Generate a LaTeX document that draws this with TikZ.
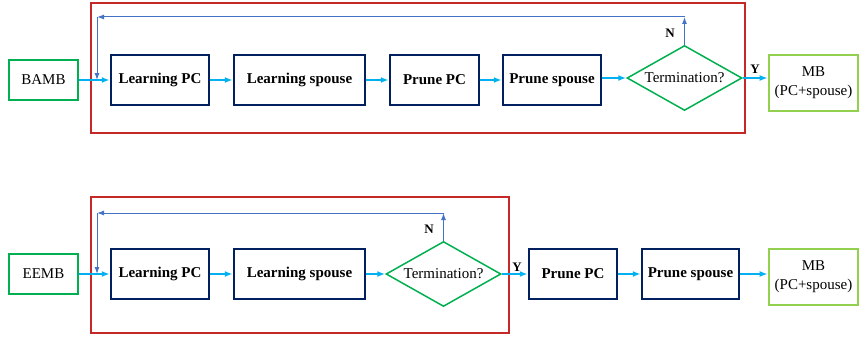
\documentclass[tikz,border=0pt]{standalone}
\usepackage{fontspec}
\setmainfont{Liberation Serif}
\usetikzlibrary{arrows.meta,shapes.geometric}

\definecolor{navy}{HTML}{002060}
\definecolor{flowcyan}{HTML}{00B0F0}
\definecolor{loopblue}{HTML}{4472C4}
\definecolor{termgreen}{HTML}{00B050}
\definecolor{outgreen}{HTML}{92D050}
\definecolor{framered}{HTML}{C62828}

\tikzset{
  stepbox/.style={draw=navy, line width=2.5pt, minimum height=50, inner sep=3pt,
    font=\fontsize{15}{17}\selectfont\bfseries},
  inbox/.style={draw=termgreen, line width=1.5pt, minimum width=69, minimum height=40,
    font=\fontsize{15}{17}\selectfont},
  outbox/.style={draw=outgreen, line width=2.8pt, minimum width=89, minimum height=56,
    align=center, inner sep=2pt, font=\fontsize{15}{19}\selectfont},
  termnode/.style={diamond, draw=termgreen, line width=1.5pt, inner sep=0pt,
    shape aspect=1.77, minimum width=115, minimum height=65,
    font=\fontsize{15}{17}\selectfont},
  flow/.style={draw=flowcyan, line width=1.8pt, -{Latex[length=8pt,width=6pt]}},
  back/.style={draw=loopblue, line width=1pt, -{Latex[length=7pt,width=5pt]}},
  yn/.style={font=\fontsize{13}{15}\selectfont\bfseries},
  frame/.style={draw=framered, line width=1.5pt}
}

\begin{document}
\begin{tikzpicture}[x=1pt,y=-1pt]
  \useasboundingbox (0,0) rectangle (859,337);

  % ---- BAMB ----
  \draw[frame] (91,3) rectangle (745,133);

  \node[inbox] (bamb) at (43.5,80) {BAMB};
  \node[stepbox, minimum width=98] (lpc1) at (160,80) {Learning PC};
  \node[stepbox, minimum width=131] (lsp1) at (299.5,80) {Learning spouse};
  \node[stepbox, minimum width=89] (ppc1) at (434.5,80) {Prune PC};
  \node[stepbox, minimum width=98] (psp1) at (552,80) {Prune spouse};
  \node[termnode] (term1) at (684.5,78) {Termination?};
  \node[outbox] (mb1) at (813.5,83) {MB\\(PC+spouse)};

  % forward arrows
  \draw[flow] (bamb) -- (lpc1);
  \draw[flow] (lpc1) -- (lsp1);
  \draw[flow] (lsp1) -- (ppc1);
  \draw[flow] (ppc1) -- (psp1);
  \draw[flow] (psp1.east |- term1.west) -- (term1.west);
  \draw[flow] (term1.east) -- (term1.east -| mb1.west);
  \node[yn] (y1) at (755,69) {Y};

  % loop back (N)
  \coordinate (fb1a) at (684.5,17);
  \coordinate (fb1b) at (97,17);
  \coordinate (fb1c) at (97,80);
  \draw[back] (term1.north) -- (fb1a);
  \draw[back] (fb1a) -- (fb1b);
  \draw[back] (fb1b) -- (fb1c);
  \node[yn] (n1) at (670,33) {N};

  % ---- EEMB ----
  \draw[frame] (91,197) rectangle (509,333);

  \node[inbox] (eemb) at (43.5,274) {EEMB};
  \node[stepbox, minimum width=98] (lpc2) at (160,274) {Learning PC};
  \node[stepbox, minimum width=131] (lsp2) at (299.5,274) {Learning spouse};
  \node[termnode] (term2) at (443.5,274) {Termination?};
  \node[stepbox, minimum width=88] (ppc2) at (573,274) {Prune PC};
  \node[stepbox, minimum width=97] (psp2) at (690.5,274) {Prune spouse};
  \node[outbox] (mb2) at (813.5,277) {MB\\(PC+spouse)};

  % forward arrows
  \draw[flow] (eemb) -- (lpc2);
  \draw[flow] (lpc2) -- (lsp2);
  \draw[flow] (lsp2.east) -- (term2.west);
  \draw[flow] (term2.east) -- (ppc2.west);
  \draw[flow] (ppc2) -- (psp2);
  \draw[flow] (psp2.east) -- (psp2.east -| mb2.west);
  \node[yn] (y2) at (517,267) {Y};

  % loop back (N)
  \coordinate (fb2a) at (443.5,213);
  \coordinate (fb2b) at (97,213);
  \coordinate (fb2c) at (97,274);
  \draw[back] (term2.north) -- (fb2a);
  \draw[back] (fb2a) -- (fb2b);
  \draw[back] (fb2b) -- (fb2c);
  \node[yn] (n2) at (429,229) {N};
\end{tikzpicture}
\end{document}
